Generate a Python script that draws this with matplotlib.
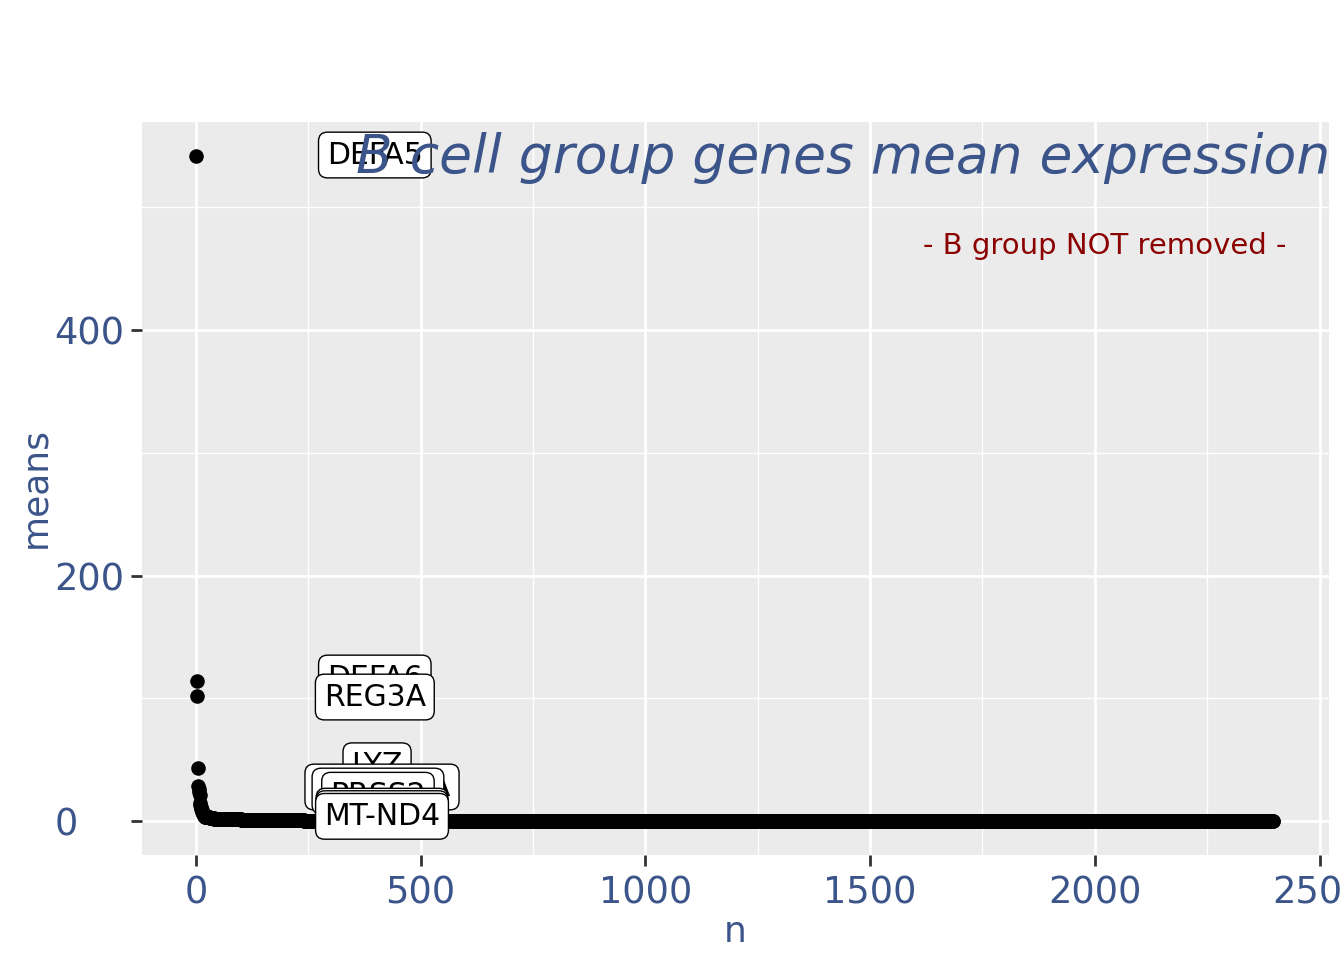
import numpy as np
import matplotlib
matplotlib.use("Agg")
import matplotlib.pyplot as plt

# top genes by mean expression
top_genes = ["DEFA5", "DEFA6", "REG3A", "LYZ", "PLA2G2A", "MT-CO1", "PRSS2", "MT-CO3", "MT-CO2", "MT-ND4"]
top_means = [541.5, 114.0, 101.6, 43.2, 28.5, 26.0, 23.5, 21.0, 14.5, 12.8]

# next few genes, still separable on the curve
mid_means = [11.5, 10.0, 8.8, 7.5, 6.6, 5.8, 5.1, 4.5, 4.0, 3.6]

# long tail, read as flat levels (mean value, number of genes)
tail_levels = [3.0, 2.5, 2.0, 1.5, 1.0, 0.7, 0.4, 0.2, 0.1, 0.03]
tail_counts = [10, 10, 20, 40, 60, 80, 150, 400, 600, 1007]

x_ticks = [0, 500, 1000, 1500, 2000, 2500]
y_ticks = [0, 200, 400]

BLUE = "#3B5489"

means = np.concatenate([top_means, mid_means, np.repeat(tail_levels, tail_counts)])
n = np.arange(1, len(means) + 1)

fig = plt.figure(figsize=(13.44, 9.6), dpi=100)
ax = fig.add_axes([142 / 1344, 1 - 855 / 960, (1329 - 142) / 1344, (855 - 122) / 960])
ax.set_facecolor("#EBEBEB")
for s in ax.spines.values():
    s.set_visible(False)

ax.set_xlim(-120, 2521)
ax.set_ylim(-27.7, 569.5)
ax.set_xticks(x_ticks)
ax.set_yticks(y_ticks)
ax.set_xticks([250, 750, 1250, 1750, 2250], minor=True)
ax.set_yticks([100, 300, 500], minor=True)
ax.grid(True, which="major", color="white", linewidth=2.0)
ax.grid(True, which="minor", color="white", linewidth=1.0)
ax.set_axisbelow(True)

ax.tick_params(which="major", length=8, width=2, color="#333333", labelsize=26.5, labelcolor=BLUE)
ax.tick_params(which="minor", length=0)
ax.tick_params(axis="x", pad=6)
ax.tick_params(axis="y", pad=55)
for lab in ax.get_yticklabels():
    lab.set_horizontalalignment("left")

ax.scatter(n, means, s=110, color="black", zorder=3, linewidths=0)

# label placement (repelled positions, in data units)
label_x = [398, 398, 398, 403, 414, 405, 405, 414, 414, 414]
label_y = [542.6, 116.5, 101.0, 45.0, 27.7, 24.4, 21.0, 8.0, 6.0, 3.8]
for name, lx, ly in zip(top_genes, label_x, label_y):
    ax.text(lx, ly, name, fontsize=21.5, color="black", ha="center", va="center", zorder=4,
            bbox=dict(boxstyle="round,pad=0.28,rounding_size=0.3", facecolor="white",
                      edgecolor="black", linewidth=1.0))

ax.text(0.591, 0.951, "B cell group genes mean expression", transform=ax.transAxes,
        fontsize=38.5, style="italic", color=BLUE, ha="center", va="center", zorder=5)
ax.text(0.811, 0.831, "- B group NOT removed -", transform=ax.transAxes,
        fontsize=21, color="#8B0000", ha="center", va="center", zorder=5)

fig.text(735 / 1344, 1 - 932 / 960, "n", fontsize=26, color=BLUE, ha="center", va="center")
fig.text(35 / 1344, 1 - 487 / 960, "means", fontsize=26, color=BLUE, ha="center", va="center",
         rotation=90)

fig.savefig("out.png", dpi=100)
